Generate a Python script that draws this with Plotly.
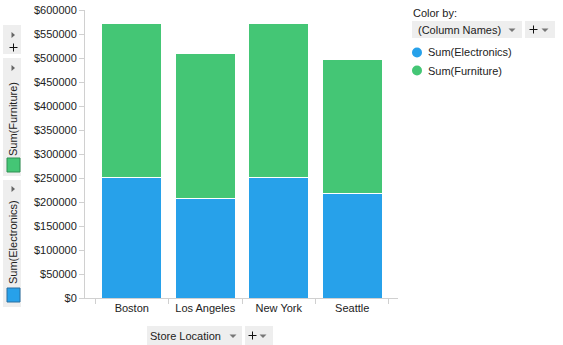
import plotly.graph_objects as go

# Sales by store, split by product column
stores = ["Boston", "Los Angeles", "New York", "Seattle"]
electronics = [252000, 208000, 252000, 217000]
furniture = [319000, 301000, 319000, 279000]

series_names = ["Sum(Electronics)", "Sum(Furniture)"]
series_colors = ["#27A1EA", "#44C675"]

W, H = 563, 345
L, R, T, B = 85, 165, 10, 47
PW, PH = W - L - R, H - T - B

FONT = "Liberation Sans, Arial, sans-serif"
TXT = "#222222"
UI_BG = "#EEEEEE"
AXIS = "#D0D0D0"


def px(x):
    return (x - L) / PW


def py(y):
    return (H - B - y) / PH


fig = go.Figure()
for name, vals, col in zip(series_names, [electronics, furniture], series_colors):
    fig.add_trace(go.Bar(
        x=stores, y=vals, name=name,
        marker=dict(color=col, line=dict(color="white", width=1)),
        width=0.82, showlegend=False,
    ))

shapes = []
annotations = []


def box(x0, y0, x1, y1):
    shapes.append(dict(type="rect", xref="paper", yref="paper",
                       x0=px(x0), x1=px(x1), y0=py(y1), y1=py(y0),
                       fillcolor=UI_BG, line=dict(width=0), layer="below"))


def text(x, y, s, xanchor="left", size=11, angle=0, color=TXT):
    annotations.append(dict(xref="paper", yref="paper", x=px(x), y=py(y),
                            text=s, showarrow=False, xanchor=xanchor,
                            yanchor="middle", textangle=angle, borderpad=0,
                            font=dict(family=FONT, size=size, color=color)))


def plus(cx, cy, half=4):
    for x0, y0, x1, y1 in [(cx - half, cy, cx + half, cy), (cx, cy - half, cx, cy + half)]:
        shapes.append(dict(type="line", xref="paper", yref="paper",
                           x0=px(x0), x1=px(x1), y0=py(y0), y1=py(y1),
                           line=dict(color="#111111", width=1)))


def down_arrow(cx, cy, color="#777777"):
    shapes.append(dict(type="path", xref="paper", yref="paper",
                       path=f"M {px(cx-3.5)} {py(cy-1.5)} L {px(cx+3.5)} {py(cy-1.5)} L {px(cx)} {py(cy+2)} Z",
                       fillcolor=color, line=dict(width=0)))


def right_arrow(cx, cy, color="#666666"):
    shapes.append(dict(type="path", xref="paper", yref="paper",
                       path=f"M {px(cx-1.5)} {py(cy-3)} L {px(cx-1.5)} {py(cy+3)} L {px(cx+2)} {py(cy)} Z",
                       fillcolor=color, line=dict(width=0)))


def square(x0, y0, x1, y1, color, edge):
    shapes.append(dict(type="rect", xref="paper", yref="paper",
                       x0=px(x0), x1=px(x1), y0=py(y1), y1=py(y0),
                       fillcolor=color, line=dict(color=edge, width=1)))


# Left-side color axis widgets
box(3, 25, 21, 54)
right_arrow(13, 35)
plus(13.5, 47.5)

box(3, 58, 21, 176)
right_arrow(13, 68)
text(13, 119, series_names[1], xanchor="center", angle=-90)
square(7, 158, 20, 172, series_colors[1], "#2e8f52")

box(3, 180, 21, 307)
right_arrow(13, 189)
text(13, 242, series_names[0], xanchor="center", angle=-90)
square(7, 288, 20, 302, series_colors[0], "#2a6fa0")

# Legend on the right
text(412, 13, "Color by:")
box(412, 21, 522, 38)
text(417, 30, "(Column Names)")
down_arrow(512, 30)
box(525, 21, 555, 38)
plus(533.5, 29.5)
down_arrow(545, 30)
for i, (name, col) in enumerate(zip(series_names, series_colors)):
    cy = 52.5 + i * 18
    shapes.append(dict(type="circle", xref="paper", yref="paper",
                       x0=px(412), x1=px(422), y0=py(cy + 5), y1=py(cy - 5),
                       fillcolor=col, line=dict(width=0)))
    text(427, cy, name)

# X axis selector below the chart
box(147, 326, 242, 345)
text(149, 336, "Store Location")
down_arrow(233, 336)
box(245, 326, 273, 345)
plus(252.5, 335.5)
down_arrow(263, 336)

fig.update_layout(
    width=W, height=H,
    margin=dict(l=L, r=R, t=T, b=B, pad=0),
    barmode="stack",
    plot_bgcolor="white", paper_bgcolor="white",
    font=dict(family=FONT, size=11, color=TXT),
    shapes=shapes, annotations=annotations,
    xaxis=dict(
        range=[-0.5 - 10 / 73.4, 3.5 + 9 / 73.4],
        showline=True, linecolor=AXIS, linewidth=1,
        ticks="outside", tickson="boundaries", ticklen=5, tickcolor=AXIS,
        showgrid=False, zeroline=False, automargin=False,
        tickfont=dict(family=FONT, size=11, color=TXT),
    ),
    yaxis=dict(
        range=[0, 600000], dtick=50000, tick0=0,
        tickprefix="$", tickformat="d",
        showline=True, linecolor=AXIS, linewidth=1,
        ticks="outside", ticklen=5, tickcolor=AXIS,
        showgrid=False, zeroline=False, automargin=False,
        tickfont=dict(family=FONT, size=11, color=TXT),
    ),
)

fig.write_html("out.html")
